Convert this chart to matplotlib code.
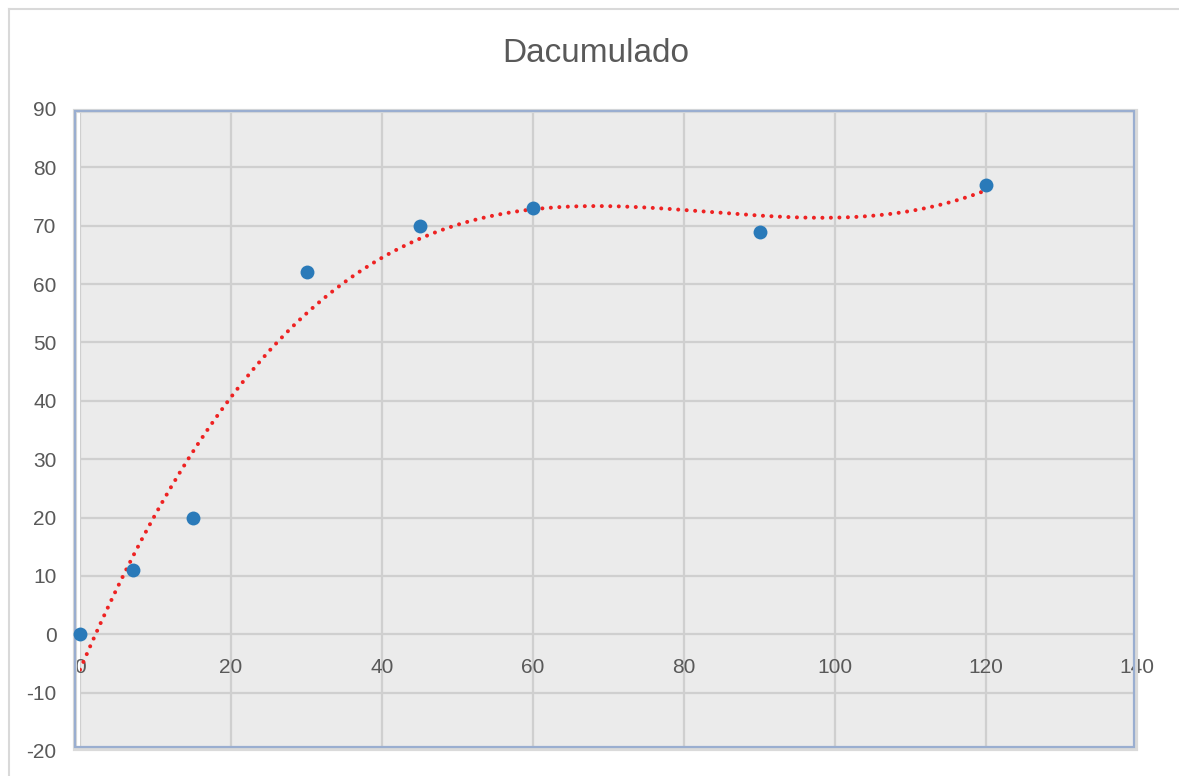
import numpy as np
import matplotlib
matplotlib.use("Agg")
import matplotlib.pyplot as plt
from matplotlib.patches import Rectangle
from matplotlib.lines import Line2D

# data
dias = [0, 7, 15, 30, 45, 60, 90, 120]
acumulado = [0, 11, 20, 62, 70, 73, 69, 77]
x_ticks = [0, 20, 40, 60, 80, 100, 120, 140]
y_ticks = [-20, -10, 0, 10, 20, 30, 40, 50, 60, 70, 80, 90]

plt.rcParams['font.family'] = ['Liberation Sans', 'DejaVu Sans']
plt.rcParams['axes.unicode_minus'] = False
txt_color = '#595959'

fig = plt.figure(figsize=(11.79, 7.76), dpi=100)
ax = fig.add_axes([80 / 1179, 25 / 776, 1057 / 1179, 642 / 776])
ax.set_facecolor('#EBEBEB')

# polynomial trendline (order 3), same as the Excel trendline
coef = np.polyfit(dias, acumulado, 3)
xs = np.linspace(0, 120, 400)
ax.plot(xs, np.polyval(coef, xs), color='#EE2222', lw=2.9,
        linestyle=(0, (0.01, 2.1)), dash_capstyle='round', zorder=3)

ax.scatter(dias, acumulado, s=100, color='#2A7AB9', zorder=7, linewidths=0, clip_on=False)

ax.set_xlim(0, 140)
ax.set_ylim(-20, 90)
ax.set_xticks(x_ticks)
ax.set_yticks(y_ticks)
ax.grid(True, color='#CFCFCF', lw=1.6)
ax.set_axisbelow(True)

# x axis crosses at y = 0
ax.spines['bottom'].set_position(('data', 0))
for s in ax.spines.values():
    s.set_color('none')
ax.tick_params(axis='both', length=0, labelsize=15, labelcolor=txt_color)
ax.tick_params(axis='x', pad=17)
ax.tick_params(axis='y', pad=17)

# plot area border (blue-grey, like the original)
ax.add_patch(Rectangle((-5 / 1057, 0.003), 1.004, 0.994, transform=ax.transAxes,
                       fill=False, edgecolor='#DADADA', lw=3, zorder=5, clip_on=False))
ax.add_patch(Rectangle((-5 / 1057, 0.006), 1.002, 0.991, transform=ax.transAxes,
                       fill=False, edgecolor='#9AAED0', lw=1.6, zorder=6, clip_on=False))

fig.text(0.505, 1 - 53 / 776, 'Dacumulado', ha='center', va='center',
         fontsize=24, color=txt_color)

# outer chart frame (top and left edges)
fig.add_artist(Line2D([9 / 1179, 1], [1 - 9 / 776, 1 - 9 / 776], color='#D9D9D9', lw=1.5))
fig.add_artist(Line2D([9 / 1179, 9 / 1179], [0, 1 - 9 / 776], color='#D9D9D9', lw=1.5))

fig.savefig('out.png', dpi=100)
